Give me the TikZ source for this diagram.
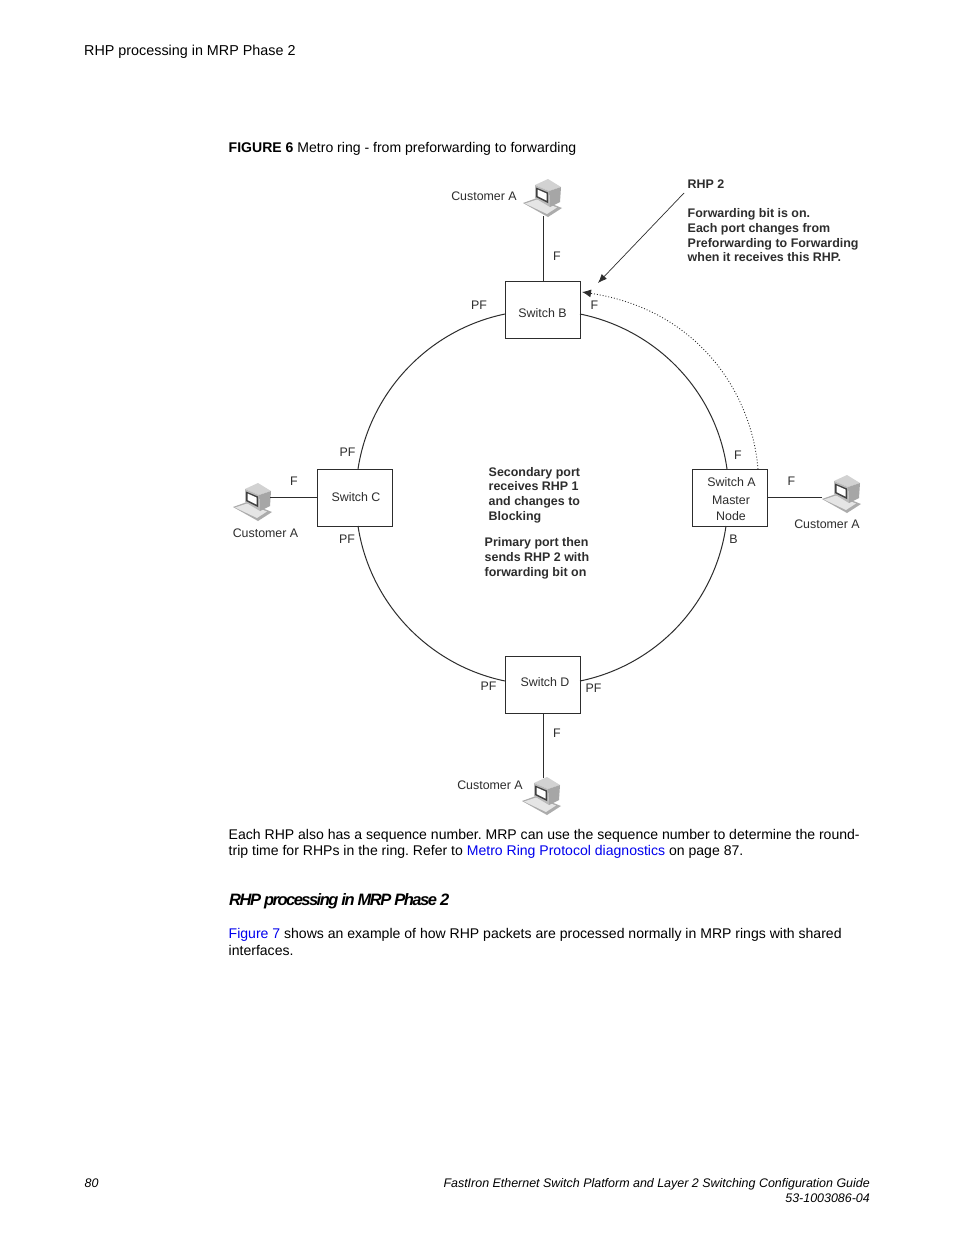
\documentclass[tikz,border=0pt]{standalone}
\usepackage{fontspec}
\usetikzlibrary{arrows.meta}
\setmainfont{Liberation Sans}
\definecolor{linkblue}{RGB}{0,0,238}
\definecolor{inkgrey}{RGB}{45,45,45}
\tikzset{
 x=1pt,y=-1pt,
 switchbox/.style={draw=inkgrey,line width=1pt,minimum width=75pt,minimum height=57pt,inner sep=0pt},
 ringline/.style={draw=inkgrey,line width=1pt},
 lbl/.style={inkgrey,font=\fontsize{12.4}{14}\selectfont,inner sep=0pt},
 note/.style={inkgrey,font=\fontsize{12.45}{14.7}\bfseries\selectfont,inner sep=0pt,align=left,anchor=north west},
 page/.style={black,font=\fontsize{14.05}{17}\selectfont,inner sep=0pt,anchor=base west},
 foot/.style={black,font=\fontsize{12.45}{15}\itshape\selectfont,inner sep=0pt,anchor=base east},
 pics/computer/.style={code={
  \fill[gray!65] (-22,6)--(-8,1)--(17,11)--(3,20)--cycle;
  \fill[gray!20] (-20,6.5)--(-8,2.5)--(12,10.5)--(2,17)--cycle;
  \fill[gray!35] (-10,-12)--(3,-18)--(16,-10)--(4,-6)--cycle;
  \fill[gray!70] (4,-6)--(16,-10)--(15,5)--(5,10)--cycle;
  \fill[gray!55] (-10,-12)--(4,-6)--(5,10)--(-10,1)--cycle;
  \fill[black!75] (-9,-9.5)--(3,-4.5)--(3,6)--(-9,0)--cycle;
  \fill[white] (-7.5,-7.5)--(1.5,-3.5)--(1.5,3.5)--(-7.5,-1)--cycle;
 }}
}
\begin{document}
\begin{tikzpicture}
\frenchspacing
\useasboundingbox[fill=white] (0,0) rectangle (954,1235);
\node[page,font=\fontsize{14.35}{17}\selectfont] (hdr) at (84,55) {RHP processing in MRP Phase 2};
\node[page] (cap) at (228.5,152) {\textbf{FIGURE 6} Metro ring - from preforwarding to forwarding};

\node[switchbox] (B) at (542.5,310) {};
\node[switchbox] (C) at (355,497.5) {};
\node[switchbox] (A) at (730,497.5) {};
\node[switchbox] (D) at (543,685) {};
\node[lbl] (Bt) at (542.5,313) {Switch B};
\node[lbl] (Ct) at (356,497) {Switch C};
\node[lbl] (At1) at (731.5,482) {Switch A};
\node[lbl] (At2) at (731,500.5) {Master};
\node[lbl] (At3) at (731,516) {Node};
\node[lbl] (Dt) at (545,682.5) {Switch D};

\pic at (545,197) {computer};
\pic at (255,501) {computer};
\pic at (844,493) {computer};
\pic at (544,795) {computer};
\coordinate (pcBl) at (543,216);
\coordinate (pcCl) at (270,497.5);
\coordinate (pcAl) at (822,497.5);
\coordinate (pcDl) at (543.5,778);

\draw[ringline] (pcBl) -- (B.north -| pcBl);
\draw[ringline] (pcCl) -- (C.west);
\draw[ringline] (pcAl) -- (A.east);
\draw[ringline] (pcDl) -- (D.south -| pcDl);

\coordinate (Bl) at (505,314); \coordinate (Br) at (580,314);
\coordinate (Ct1) at (358,469); \coordinate (Cb) at (358,526);
\coordinate (Atp) at (727,469); \coordinate (Ab) at (726,526);
\coordinate (Dl) at (505,681); \coordinate (Dr) at (580,681);
\draw[ringline] (Bl) .. controls (428.6,329.8) and (369.7,392) .. (Ct1);
\draw[ringline] (Br) .. controls (657.4,329.8) and (716.3,392) .. (Atp);
\draw[ringline] (Cb) .. controls (369.7,603) and (428.6,665.2) .. (Dl);
\draw[ringline] (Ab) .. controls (715,603) and (657,665.2) .. (Dr);

\coordinate (arrS) at (684,193);
\coordinate (arrE) at (598,283);
\draw[inkgrey,line width=0.7pt,-{Latex[length=9pt,width=7pt]}] (arrS) -- (arrE);
\coordinate (dotS) at (758,469);
\coordinate (dotE) at (582,292);
\draw[inkgrey,line width=0.9pt,dotted,-{Latex[length=9pt,width=8pt,sep=0pt]}] (dotS) .. controls (752,395) and (700,310) .. (dotE);

\node[lbl] (c1) at (484,196) {Customer A};
\node[lbl] (c2) at (265.5,533) {Customer A};
\node[lbl] (c3) at (827,524.5) {Customer A};
\node[lbl] (c4) at (490,785) {Customer A};
\node[lbl] (p1) at (557,256.5) {F};
\node[lbl] (p2) at (479,305) {PF};
\node[lbl] (p3) at (594.5,305.5) {F};
\node[lbl] (p4) at (347.5,452.5) {PF};
\node[lbl] (p5) at (294,481.5) {F};
\node[lbl] (p6) at (347,539.5) {PF};
\node[lbl] (p7) at (738,455) {F};
\node[lbl] (p8) at (791.5,481) {F};
\node[lbl] (p9) at (733.5,539.5) {B};
\node[lbl] (p10) at (488.5,686.5) {PF};
\node[lbl] (p11) at (593.5,688.5) {PF};
\node[lbl] (p12) at (557,733) {F};

\node[note] (n1) at (687.5,179.8) {RHP 2\\[14.5pt]Forwarding bit is on.\\Each port changes from\\Preforwarding to Forwarding\\when it receives this RHP.};
\node[note] (n2) at (488.5,466.8) {Secondary port\\receives RHP 1\\and changes to\\Blocking};
\node[note] (n3) at (484.5,537.5) {Primary port then\\sends RHP 2 with\\forwarding bit on};

\node[page] (b1) at (228.5,839) {Each RHP also has a sequence number. MRP can use the sequence number to determine the round-};
\node[page] (b2) at (228.5,855) {trip time for RHPs in the ring. Refer to \textcolor{linkblue}{Metro Ring Protocol diagnostics} on page 87.};
\node[page,font=\fontsize{16.5}{20}\bfseries\itshape\addfontfeatures{LetterSpace=-9.2}\selectfont] (h2) at (229,905) {RHP processing in MRP Phase 2};
\node[page] (b3) at (228.5,938) {\textcolor{linkblue}{Figure 7} shows an example of how RHP packets are processed normally in MRP rings with shared};
\node[page] (b4) at (228.5,955) {interfaces.};
\node[page,font=\fontsize{12.45}{15}\itshape\selectfont] (f1) at (84.5,1187) {80};
\node[foot] (f2) at (870,1187) {FastIron Ethernet Switch Platform and Layer 2 Switching Configuration Guide};
\node[foot] (f3) at (870,1202) {53-1003086-04};
\end{tikzpicture}
\end{document}
